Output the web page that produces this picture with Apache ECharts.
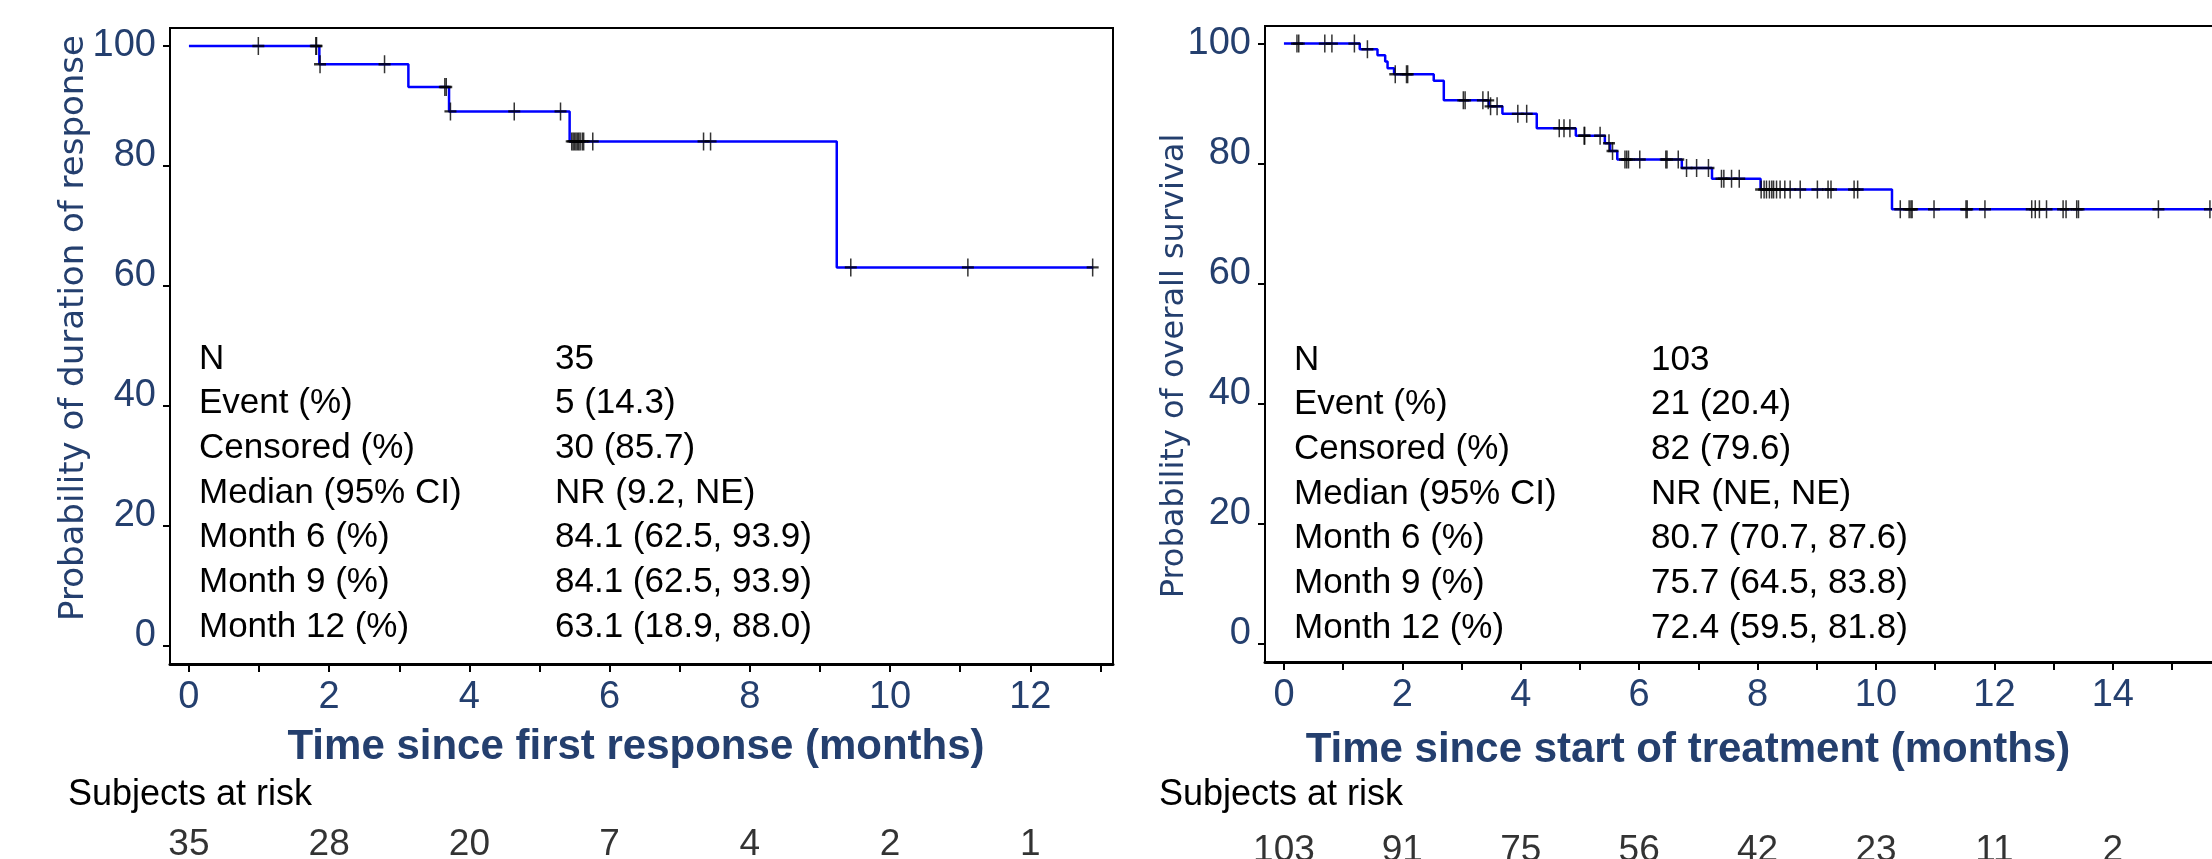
<!DOCTYPE html>
<html>
<head>
<meta charset="utf-8">
<script src="https://cdn.jsdelivr.net/npm/echarts@6/dist/echarts.min.js"></script>
<style>
html,body{margin:0;padding:0;background:#fff;}
#chart{width:2212px;height:859px;}
</style>
</head>
<body>
<div id="chart"></div>
<script>
// ---------- data: left panel (duration of response) ----------
const leftEventTimes = [0, 1.86, 3.13, 3.71, 5.43, 9.24, 12.9];
const leftSurvival   = [100, 96.97, 93.17, 89.1, 84.1, 63.1, 63.1];
const leftCensorTimes = [0.99, 1.81, 1.82, 1.87, 2.79, 3.65, 3.67, 3.73, 4.64, 5.30,
  5.46, 5.48, 5.50, 5.52, 5.54, 5.56, 5.58, 5.61, 5.63, 5.76, 7.34, 7.44, 9.44, 11.11, 12.89];
const leftRiskMonths = [0, 2, 4, 6, 8, 10, 12];
const leftAtRisk = [35, 28, 20, 7, 4, 2, 1];
const leftXTicks = [0,1,2,3,4,5,6,7,8,9,10,11,12,13];
const leftXLabels = [0,2,4,6,8,10,12];
const leftStatLabels = ['N','Event (%)','Censored (%)','Median (95% CI)','Month 6 (%)','Month 9 (%)','Month 12 (%)'];
const leftStatValues = ['35','5 (14.3)','30 (85.7)','NR (9.2, NE)','84.1 (62.5, 93.9)','84.1 (62.5, 93.9)','63.1 (18.9, 88.0)'];
const leftXTitle = 'Time since first response (months)';
const leftYTitle = 'Probability of duration of response';

// ---------- data: right panel (overall survival) ----------
const rightEventTimes = [0, 1.28, 1.58, 1.71, 1.75, 1.86, 2.53, 2.70, 3.46, 3.69, 4.27, 4.93,
  5.42, 5.51, 5.63, 6.72, 7.23, 8.05, 10.27, 15.9];
const rightSurvival = [100, 99.05, 98.05, 97.0, 95.9, 94.9, 93.8, 90.55, 89.55, 88.3, 85.9, 84.65,
  83.4, 82.1, 80.7, 79.27, 77.5, 75.7, 72.4, 72.4];
const rightCensorTimes = [0.22, 0.25, 0.69, 0.81, 1.19, 1.41, 1.88, 2.07, 2.09, 3.03, 3.06, 3.36,
  3.45, 3.49, 3.60, 3.95, 4.10, 4.65, 4.73, 4.83, 5.07, 5.08, 5.34, 5.49, 5.55, 5.76, 5.79, 5.82,
  6.01, 6.45, 6.47, 6.66, 6.80, 6.97, 7.17, 7.39, 7.43, 7.56, 7.69, 8.06, 8.11, 8.15, 8.20, 8.24,
  8.27, 8.32, 8.38, 8.46, 8.55, 8.72, 9.01, 9.19, 9.24, 9.63, 9.69, 10.41, 10.56, 10.59, 10.61,
  10.98, 11.52, 11.54, 11.84, 12.63, 12.69, 12.76, 12.88, 13.16, 13.21, 13.39, 13.42, 14.77, 15.64];
const rightRiskMonths = [0, 2, 4, 6, 8, 10, 12, 14];
const rightAtRisk = [103, 91, 75, 56, 42, 23, 11, 2];
const rightXTicks = [0,1,2,3,4,5,6,7,8,9,10,11,12,13,14,15,16];
const rightXLabels = [0,2,4,6,8,10,12,14,16];
const rightStatLabels = ['N','Event (%)','Censored (%)','Median (95% CI)','Month 6 (%)','Month 9 (%)','Month 12 (%)'];
const rightStatValues = ['103','21 (20.4)','82 (79.6)','NR (NE, NE)','80.7 (70.7, 87.6)','75.7 (64.5, 83.8)','72.4 (59.5, 81.8)'];
const rightXTitle = 'Time since start of treatment (months)';
const rightYTitle = 'Probability of overall survival';

const yTicks = [0, 20, 40, 60, 80, 100];
const riskTitle = 'Subjects at risk';

// ---------- helpers ----------
const NAVY = '#243F6E';
const FONT = '"Liberation Sans", Arial, Helvetica, sans-serif';
const TICK_FS = 38;
function stepValue(times, surv, t) {
  let v = surv[0];
  for (let i = 0; i < times.length; i++) { if (times[i] <= t) v = surv[i]; }
  return v;
}
const curve = (times, surv) => times.map((t, i) => [t, surv[i]]);
const censors = (ct, times, surv) => ct.map(t => [t, stepValue(times, surv, t)]);
const risk = (months, n) => months.map((m, i) => [m, 0.5, n[i]]);

const plusPath = 'path://M5.25,0h1.5v18h-1.5z M0,7.8h12v2.4h-12z';

function frameGrid(g) {
  return Object.assign({ show: true, borderColor: '#000', borderWidth: 2, backgroundColor: 'transparent',
    outerBoundsMode: 'none', containLabel: false }, g);
}
function plainGrid(g) { return Object.assign({ show: false, outerBoundsMode: 'none', containLabel: false }, g); }

function xAxisFor(gridIndex, min, max, ticks, labels) {
  return {
    type: 'value', gridIndex, min, max, position: 'bottom',
    splitLine: { show: false },
    axisLine: { show: true, onZero: false, lineStyle: { color: '#000', width: 3 } },
    axisTick: { show: true, customValues: ticks, length: 8, lineStyle: { color: '#000', width: 2 } },
    axisLabel: { customValues: labels, margin: 15, fontSize: TICK_FS, color: NAVY, fontFamily: FONT, hideOverlap: false }
  };
}
function yAxisFor(gridIndex, min, max) {
  return {
    type: 'value', gridIndex, min, max, position: 'left',
    splitLine: { show: false },
    axisLine: { show: true, onZero: false, lineStyle: { color: '#000', width: 2 } },
    axisTick: { show: true, customValues: yTicks, length: 7, lineStyle: { color: '#000', width: 2 } },
    axisLabel: {
      customValues: yTicks, margin: 14,
      formatter: v => v === 100 ? '{c|' + v + '}' : '{b|' + v + '}',
      rich: {
        b: { fontSize: TICK_FS, color: NAVY, fontFamily: FONT, padding: [0, 0, 20, 0] },
        c: { fontSize: TICK_FS, color: NAVY, fontFamily: FONT }
      }
    }
  };
}
function hiddenAxis(gridIndex, min, max) {
  return { type: 'value', gridIndex, min, max, show: false, splitLine: { show: false } };
}

const LX = [-0.27, 13.18], LY = [-3, 103];
const RX = [-0.32, 16.3], RY = [-3, 102.93];

const graphics = [];
function addText(text, x, y, style, extra) {
  graphics.push(Object.assign({ type: 'text', x, y, silent: true,
    style: Object.assign({ text, fill: '#000', font: '35px ' + FONT, align: 'left', verticalAlign: 'middle' }, style) }, extra || {}));
}
leftStatLabels.forEach((s, i) => addText(s, 199, 359 + 44.7 * i, {}));
leftStatValues.forEach((s, i) => addText(s, 555, 359 + 44.7 * i, {}));
rightStatLabels.forEach((s, i) => addText(s, 1294, 360 + 44.7 * i, {}));
rightStatValues.forEach((s, i) => addText(s, 1651, 360 + 44.7 * i, {}));
addText(leftXTitle, 636, 747, { font: 'bold 42px ' + FONT, fill: NAVY, align: 'center' });
addText(rightXTitle, 1688, 750, { font: 'bold 42px ' + FONT, fill: NAVY, align: 'center' });
addText(leftYTitle, 74, 328, { font: '34px "DejaVu Sans", sans-serif', fill: NAVY, align: 'center' }, { rotation: Math.PI / 2 });
addText(rightYTitle, 1175, 366, { font: '32px "DejaVu Sans", sans-serif', fill: NAVY, align: 'center' }, { rotation: Math.PI / 2 });
addText(riskTitle, 68, 795, { font: '36px ' + FONT });
addText(riskTitle, 1159, 795, { font: '36px ' + FONT });

function riskSeries(xi, data) {
  return {
    type: 'scatter', xAxisIndex: xi, yAxisIndex: xi, data, symbolSize: 1, silent: true, clip: false,
    itemStyle: { color: 'transparent' },
    label: { show: true, position: 'inside', formatter: p => String(p.value[2]),
      fontSize: 37, color: '#000', fontFamily: FONT }
  };
}
function censorSeries(xi, data) {
  return {
    type: 'scatter', xAxisIndex: xi, yAxisIndex: xi, data, silent: true,
    symbol: plusPath, symbolKeepAspect: false, symbolSize: [12, 18],
    itemStyle: { color: '#000' }, z: 3
  };
}
function curveSeries(xi, data) {
  return {
    type: 'line', xAxisIndex: xi, yAxisIndex: xi, data, step: 'end', showSymbol: false, symbol: 'none',
    lineStyle: { color: '#0000FF', width: 2.5 }, silent: true, z: 2
  };
}

const option = {
  animation: false,
  backgroundColor: '#fff',
  grid: [
    frameGrid({ left: 170, top: 28, width: 943, height: 636 }),
    plainGrid({ left: 170, top: 832, width: 943, height: 26 }),
    frameGrid({ left: 1265, top: 26, width: 984, height: 636 }),
    plainGrid({ left: 1265, top: 838, width: 984, height: 26 })
  ],
  xAxis: [
    xAxisFor(0, LX[0], LX[1], leftXTicks, leftXLabels),
    hiddenAxis(1, LX[0], LX[1]),
    xAxisFor(2, RX[0], RX[1], rightXTicks, rightXLabels),
    hiddenAxis(3, RX[0], RX[1])
  ],
  yAxis: [
    yAxisFor(0, LY[0], LY[1]),
    hiddenAxis(1, 0, 1),
    yAxisFor(2, RY[0], RY[1]),
    hiddenAxis(3, 0, 1)
  ],
  series: [
    curveSeries(0, curve(leftEventTimes, leftSurvival)),
    censorSeries(0, censors(leftCensorTimes, leftEventTimes, leftSurvival)),
    riskSeries(1, risk(leftRiskMonths, leftAtRisk)),
    curveSeries(2, curve(rightEventTimes, rightSurvival)),
    censorSeries(2, censors(rightCensorTimes, rightEventTimes, rightSurvival)),
    riskSeries(3, risk(rightRiskMonths, rightAtRisk))
  ],
  graphic: graphics
};

const chart = echarts.init(document.getElementById('chart'), null, { renderer: 'canvas' });
chart.setOption(option);
</script>
</body>
</html>
